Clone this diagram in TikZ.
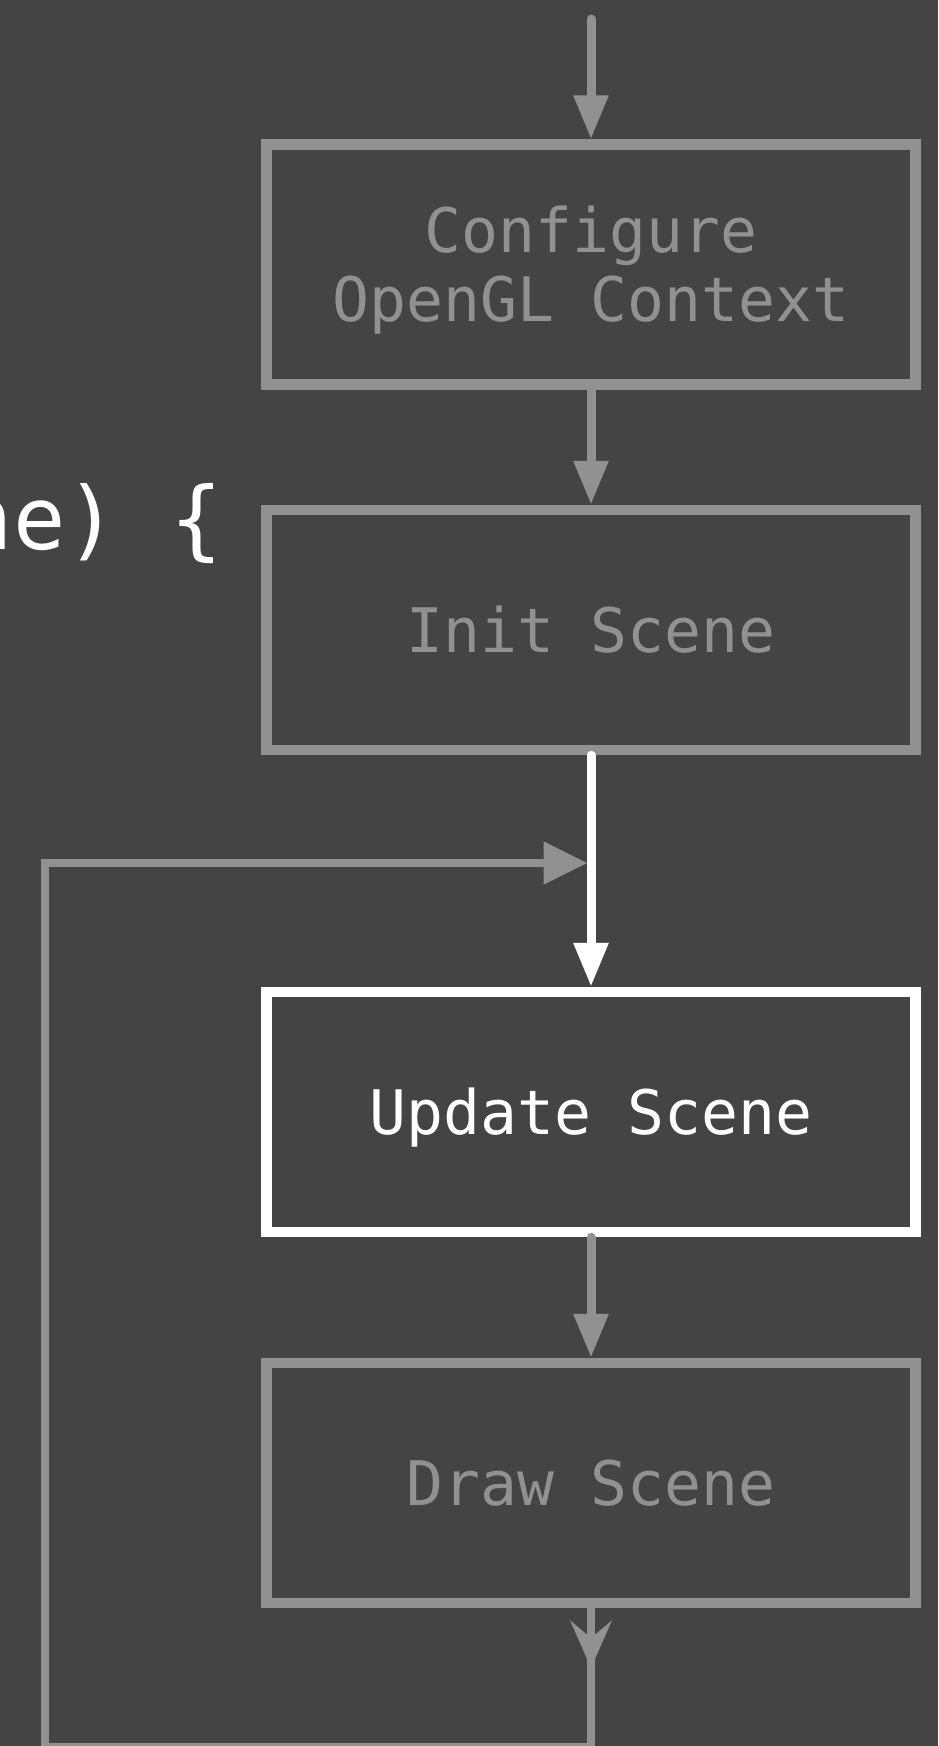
\documentclass[tikz,border=0pt]{standalone}
\usepackage{fontspec}
\usepackage{xcolor}
\usetikzlibrary{arrows.meta}
\usetikzlibrary{positioning, math}
\newfontfamily\codefont{DejaVu Sans Mono}
\definecolor{mybg}{RGB}{68,68,68}
\definecolor{mygray}{RGB}{145,145,145}

\begin{document}
\begin{tikzpicture}[x=0.5pt, y=-0.5pt,
  box/.style={draw=mygray, line width=5.25pt, minimum width=324.5pt, minimum height=120pt,
    inner sep=0pt, text=mygray, align=center, text height=22.4pt, text depth=0pt,
    font=\codefont\fontsize{30.7pt}{34.5pt}\selectfont},
  active/.style={draw=white, text=white},
  flow/.style={draw=mygray, line width=4.5pt, line cap=round, -{Triangle[length=22pt,width=16.5pt]}},
  loopline/.style={draw=mygray, line width=4pt}]
\tikzmath{
\picw=938;
\pich=1746;
\cx=591;
\xl=45;
\yb=1747;
\yl=863;
}
\fill[mybg] (0,0) rectangle (\picw,\pich);
\useasboundingbox (0,0) rectangle (\picw,\pich);

\node[box, text height=56.9pt] (config) at (\cx,264.5) {Configure\\OpenGL Context};
\node[box] (init) at (\cx,630) {Init Scene};
\node[box, active] (update) at (\cx,1112) {Update Scene};
\node[box] (drawsc) at (\cx,1483) {Draw Scene};

\node[anchor=base east, inner sep=0pt, text=white, font=\codefont\fontsize{43.5pt}{52pt}\selectfont] (loophead) at (223,549) {ne) \{};

\coordinate (entry) at (\cx,19);
\coordinate (merge) at (587.5,\yl);
\coordinate (corner) at (\xl,\yb);
\coordinate (tip) at (\cx,1668);

\draw[flow] (entry) -- (config.north);
\draw[flow] (config.south) -- (init.north);
\draw[flow, draw=white] (init.south) -- (update.north);
\draw[flow] (update.south) -- (drawsc.north);

% loop back from draw to update
\draw[loopline, -{Triangle[length=22pt,width=20.5pt]}] (drawsc.south) |- (corner) |- (merge);
\draw[loopline, -{Stealth[length=23.5pt,width=20.5pt,inset=8.5pt]}] (drawsc.south) -- (tip);
\end{tikzpicture}
\end{document}
